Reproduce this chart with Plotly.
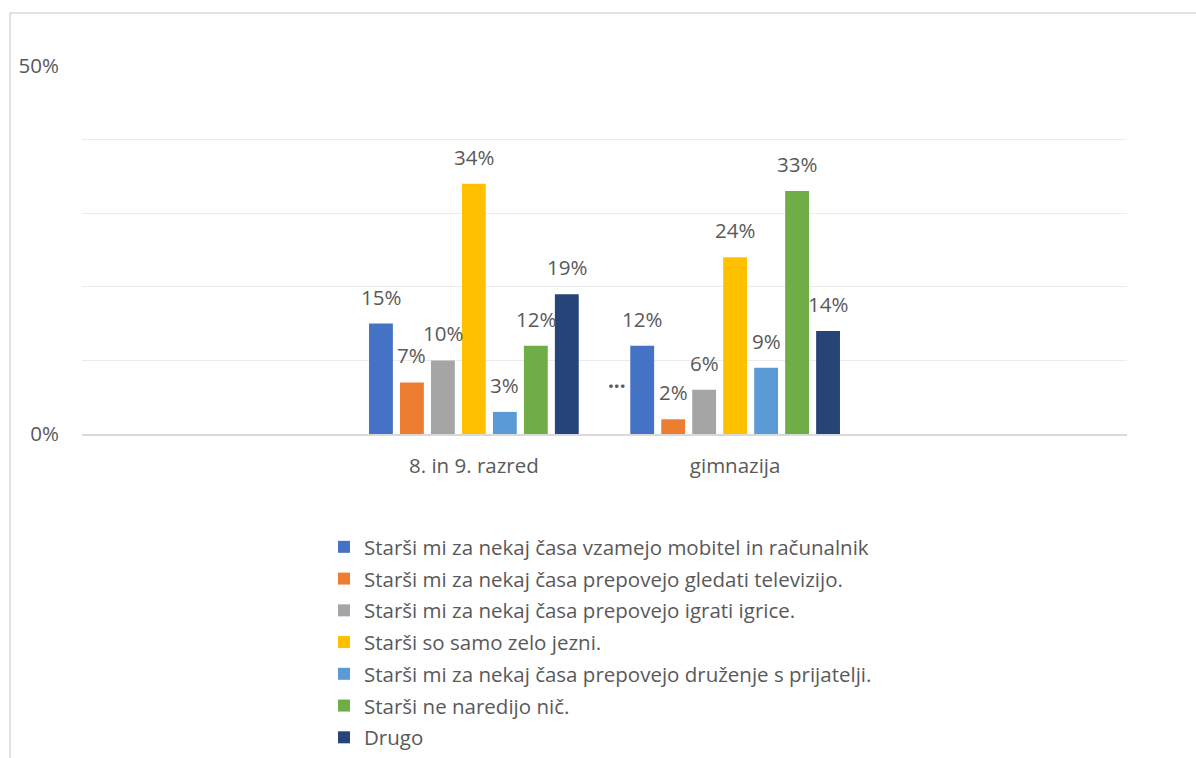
import plotly.graph_objects as go

categories = ["8. in 9. razred", "gimnazija"]
series_names = [
    "Starši mi za nekaj časa vzamejo mobitel in računalnik",
    "Starši mi za nekaj časa prepovejo gledati televizijo.",
    "Starši mi za nekaj časa prepovejo igrati igrice.",
    "Starši so samo zelo jezni.",
    "Starši mi za nekaj časa prepovejo druženje s prijatelji.",
    "Starši ne naredijo nič.",
    "Drugo",
]
values_razred = [15, 7, 10, 34, 3, 12, 19]
values_gimnazija = [12, 2, 6, 24, 9, 33, 14]
colors = ["#4472C4", "#ED7D31", "#A5A5A5", "#FFC000", "#5B9BD5", "#70AD47", "#264478"]
y_tickvals = [0, 10, 20, 30, 40, 50]
y_ticktext = ["0%", "", "", "", "", "50%"]

W, H = 1196, 758
L, R, T, B = 82, 1127, 66, 434
PW, PH = R - L, B - T
FONT = "Open Sans"
FS = 20.5
TXT = "#595959"
bargap = 0.17
n = len(series_names)

x_pos = list(range(len(categories)))
fig = go.Figure()
annotations = []
slot = (1 - bargap) / n
for i, name in enumerate(series_names):
    vals = [values_razred[i], values_gimnazija[i]]
    fig.add_trace(go.Bar(
        x=x_pos, y=vals, name=name, marker=dict(color=colors[i], line=dict(width=0)),
        legendgroup=f"g{i}", hoverinfo="skip",
    ))
    for k, v in enumerate(vals):
        xc = x_pos[k] + (i - (n - 1) / 2) * slot
        annotations.append(dict(
            x=xc, y=v, xref="x", yref="y", text=f"{v}%", showarrow=False,
            yanchor="bottom", yshift=11, font=dict(family=FONT, size=FS, color=TXT),
        ))

# truncated Excel label artefact next to gimnazija group
annotations.append(dict(
    x=x_pos[1] - 3.8 * slot, y=7.3, xref="x", yref="y", text="<b>...</b>", showarrow=False,
    font=dict(family=FONT, size=FS, color=TXT),
))

fig.update_layout(
    width=W, height=H,
    margin=dict(l=L, r=W - R, t=T, b=H - B, pad=0, autoexpand=False),
    paper_bgcolor="white", plot_bgcolor="white",
    barmode="group", bargap=bargap, bargroupgap=0.23,
    font=dict(family=FONT, size=FS, color=TXT),
    showlegend=True,
    legend=dict(
        x=(324 - L) / PW, y=(B - 527) / PH,
        xanchor="left", yanchor="top", tracegroupgap=2.1,
        font=dict(family=FONT, size=FS, color=TXT), bgcolor="rgba(0,0,0,0)",
        itemwidth=30, traceorder="grouped",
    ),
    xaxis=dict(
        range=[-1.5, 2.5], tickvals=x_pos, ticktext=categories, showgrid=False,
        showline=True, linecolor="#d9d9d9", linewidth=1.5, ticks="", zeroline=False,
        tickangle=0, ticklabelstandoff=13, tickfont=dict(family=FONT, size=FS, color=TXT),
    ),
    yaxis=dict(
        range=[0, 50], tickvals=y_tickvals, ticktext=y_ticktext, showgrid=True,
        gridcolor="#ebebeb", gridwidth=1.3, zeroline=False, showline=False, ticks="",
        ticklabelstandoff=22, tickfont=dict(family=FONT, size=FS, color=TXT),
    ),
    annotations=annotations,
    shapes=[dict(
        type="rect", xref="paper", yref="paper",
        x0=(10 - L) / PW, x1=(1210 - L) / PW,
        y0=(B - 780) / PH, y1=(B - 13) / PH,
        line=dict(color="#d9d9d9", width=1.5), fillcolor="rgba(0,0,0,0)", layer="below",
    )],
)

fig.write_html("out.html")
